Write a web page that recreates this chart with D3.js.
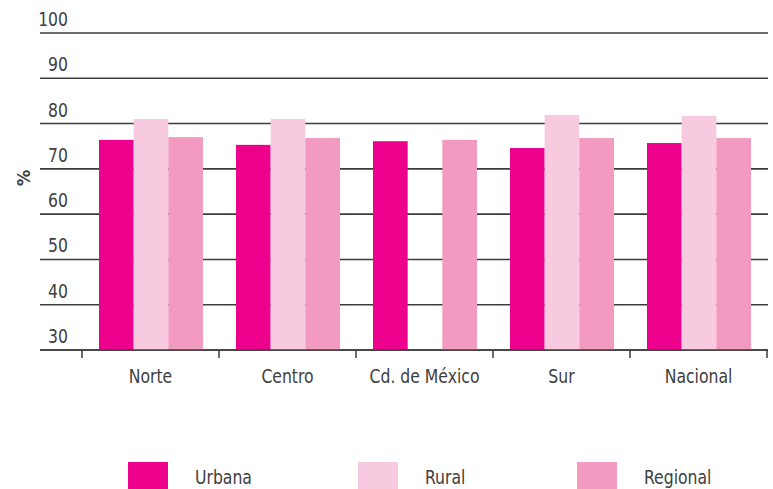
<!DOCTYPE html>
<html>
<head>
<meta charset="utf-8">
<script src="https://cdn.jsdelivr.net/npm/d3@7"></script>
<style>
  body { margin: 0; background: #fff; }
  text { font-family: "DejaVu Sans Condensed", "DejaVu Sans", sans-serif; fill: #404040; }
</style>
</head>
<body>
<div id="graph_draw"></div>
<script>
// data
var categories = ["Norte", "Centro", "Cd. de México", "Sur", "Nacional"];
var series = ["Urbana", "Rural", "Regional"];
var urbana   = [76.4, 75.3, 76.1, 74.6, 75.7];
var rural    = [81.0, 81.0, null, 81.9, 81.7];
var regional = [77.0, 76.8, 76.4, 76.8, 76.8];
var yTicks = [30, 40, 50, 60, 70, 80, 90, 100];
var colors = ["#ec008c", "#f8cadf", "#f39ac1"];

var width = 773, height = 489;
var squeeze = 0.87; // the original font is a narrow one

function place(x, y) {
    return "translate(" + x + "," + y + ") scale(" + squeeze + ",1)";
}

var svg = d3.select("#graph_draw").append("svg")
    .attr("width", width)
    .attr("height", height);

// scales
var x = d3.scaleBand().domain(categories).range([82, 767]).paddingInner(0).paddingOuter(0);
var xs = d3.scaleBand().domain(series).range([17, x.bandwidth() - 16]);
var y = d3.scaleLinear().domain([30, 100]).range([350, 33]);
var color = d3.scaleOrdinal().domain(series).range(colors);

// gridlines + y labels
svg.append("g").selectAll("line")
    .data(yTicks)
    .enter().append("line")
    .attr("x1", 40).attr("x2", 768)
    .attr("y1", function(d) { return y(d); })
    .attr("y2", function(d) { return y(d); })
    .attr("stroke", "#3c3c3c")
    .attr("stroke-width", 1.6);

svg.append("g").selectAll("text")
    .data(yTicks)
    .enter().append("text")
    .attr("transform", function(d) { return place(68, y(d) - 7); })
    .attr("text-anchor", "end")
    .style("font-size", "20px")
    .text(function(d) { return d; });

// bars
var table = categories.map(function(c, i) {
    return [
        {cat: c, key: "Urbana", v: urbana[i]},
        {cat: c, key: "Rural", v: rural[i]},
        {cat: c, key: "Regional", v: regional[i]}
    ];
});

svg.append("g").selectAll("g")
    .data(table)
    .enter().append("g")
    .attr("transform", function(d, i) { return "translate(" + x(categories[i]) + ",0)"; })
    .selectAll("rect")
    .data(function(d) { return d.filter(function(e) { return e.v != null; }); })
    .enter().append("rect")
    .attr("x", function(d) { return xs(d.key); })
    .attr("width", xs.bandwidth())
    .attr("y", function(d) { return y(d.v); })
    .attr("height", function(d) { return y(30) - y(d.v); })
    .attr("fill", function(d) { return color(d.key); });

// x axis
var xAxis = svg.append("g")
    .attr("transform", "translate(0,350)");
xAxis.append("line")
    .attr("x1", 40).attr("x2", 768)
    .attr("stroke", "#3c3c3c").attr("stroke-width", 1.6);
var tickPos = categories.map(function(c) { return x(c); }).concat([x.range()[1]]);
xAxis.selectAll(".tk")
    .data(tickPos)
    .enter().append("line")
    .attr("class", "tk")
    .attr("x1", function(d) { return d; })
    .attr("x2", function(d) { return d; })
    .attr("y1", 0).attr("y2", 8)
    .attr("stroke", "#3c3c3c").attr("stroke-width", 1.5);
xAxis.selectAll("text")
    .data(categories)
    .enter().append("text")
    .attr("transform", function(d) { return place(x(d) + x.bandwidth() / 2, 33); })
    .attr("text-anchor", "middle")
    .style("font-size", "20px")
    .text(function(d) { return d; });

// y title
svg.append("text")
    .attr("transform", "translate(30,178) rotate(-90)")
    .attr("text-anchor", "middle")
    .style("font-size", "18px")
    .style("font-weight", "bold")
    .text("%");

// legend
var legendX = [128, 358, 577];
var lg = svg.append("g").selectAll("g")
    .data(series)
    .enter().append("g")
    .attr("transform", function(d, i) { return "translate(" + legendX[i] + ",462)"; });
lg.append("rect")
    .attr("width", 40).attr("height", 27)
    .attr("fill", function(d) { return color(d); });
lg.append("text")
    .attr("transform", place(67, 22))
    .style("font-size", "20px")
    .text(function(d) { return d; });
</script>
</body>
</html>
